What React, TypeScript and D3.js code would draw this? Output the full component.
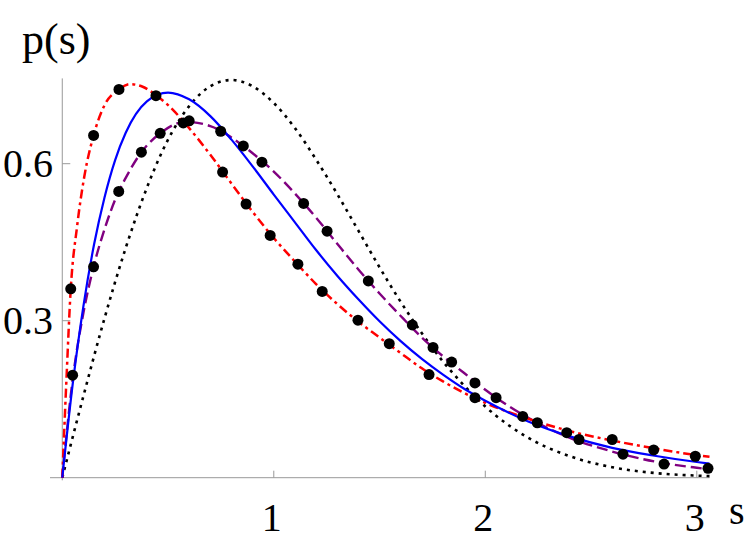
import * as d3 from 'd3'

// curves, [s, p(s)]
const goeCurve: [number, number][] = [
  [0, 0], [0.1, 0.156], [0.2, 0.305], [0.3, 0.439], [0.4, 0.554], [0.5, 0.646],
  [0.6, 0.71], [0.7, 0.748], [0.8, 0.76], [0.9, 0.748], [1.0, 0.716], [1.1, 0.668],
  [1.2, 0.608], [1.3, 0.542], [1.4, 0.472], [1.5, 0.402], [1.6, 0.336], [1.7, 0.276],
  [1.8, 0.222], [1.9, 0.176], [2.0, 0.136], [2.2, 0.077], [2.4, 0.041], [2.6, 0.02],
  [2.8, 0.009], [3.0, 0.004], [3.06, 0.003],
]

const blueCurve: [number, number][] = [
  [0, 0], [0.05, 0.181], [0.1, 0.328], [0.15, 0.445], [0.2, 0.536], [0.25, 0.607],
  [0.3, 0.659], [0.4, 0.719], [0.5, 0.736], [0.6, 0.723], [0.7, 0.691], [0.8, 0.646],
  [0.9, 0.595], [1.0, 0.541], [1.1, 0.488], [1.2, 0.435], [1.3, 0.386], [1.4, 0.341],
  [1.5, 0.299], [1.6, 0.261], [1.7, 0.227], [1.8, 0.197], [1.9, 0.17], [2.0, 0.147],
  [2.2, 0.108], [2.4, 0.079], [2.6, 0.057], [2.8, 0.042], [3.0, 0.03], [3.06, 0.027],
]

const purpleCurve: [number, number][] = [
  [0, 0], [0.05, 0.19], [0.1, 0.315], [0.148, 0.403], [0.2, 0.475], [0.267, 0.547],
  [0.3, 0.573], [0.374, 0.622], [0.463, 0.658], [0.58, 0.68], [0.7, 0.672], [0.8, 0.65],
  [0.9, 0.62], [1.0, 0.585], [1.1, 0.543], [1.2, 0.497], [1.3, 0.447], [1.4, 0.398],
  [1.5, 0.352], [1.6, 0.309], [1.7, 0.268], [1.8, 0.232], [1.9, 0.2], [2.0, 0.168],
  [2.2, 0.115], [2.4, 0.076], [2.6, 0.05], [2.8, 0.031], [3.0, 0.019], [3.06, 0.016],
]

const redCurve: [number, number][] = [
  [0, 0], [0.02, 0.19], [0.04, 0.36], [0.07, 0.48], [0.104, 0.575], [0.148, 0.654],
  [0.2, 0.712], [0.268, 0.742], [0.32, 0.752], [0.38, 0.747], [0.443, 0.731], [0.5, 0.712],
  [0.6, 0.668], [0.7, 0.617], [0.8, 0.562], [0.9, 0.508], [1.0, 0.458], [1.1, 0.413],
  [1.2, 0.37], [1.3, 0.332], [1.4, 0.298], [1.5, 0.268], [1.6, 0.238], [1.7, 0.209],
  [1.8, 0.184], [1.9, 0.162], [2.0, 0.143], [2.2, 0.113], [2.4, 0.089], [2.6, 0.071],
  [2.8, 0.056], [3.0, 0.043], [3.06, 0.04],
]

// measured points (black dots)
const dotsA: [number, number][] = [
  [0.04, 0.361], [0.148, 0.654], [0.268, 0.742], [0.443, 0.73], [0.758, 0.584],
  [0.869, 0.523], [0.983, 0.463], [1.114, 0.408], [1.229, 0.356], [1.398, 0.301],
  [1.546, 0.256], [1.734, 0.197], [1.951, 0.153], [2.177, 0.117], [2.385, 0.086],
  [2.6, 0.073], [2.796, 0.053], [2.993, 0.041],
]

const dotsB: [number, number][] = [
  [0.049, 0.196], [0.148, 0.403], [0.267, 0.547], [0.374, 0.622], [0.463, 0.658],
  [0.572, 0.678], [0.6, 0.682], [0.749, 0.662], [0.856, 0.634], [0.944, 0.603],
  [1.141, 0.524], [1.252, 0.471], [1.447, 0.376], [1.655, 0.292], [1.753, 0.249],
  [1.841, 0.221], [1.951, 0.181], [2.051, 0.153], [2.246, 0.105], [2.443, 0.073],
  [2.651, 0.045], [2.845, 0.026], [3.053, 0.018],
]

const xTicks = [1, 2, 3]
const yTicks = [0.3, 0.6]

const width = 750
const height = 540
const font = "'Liberation Serif', 'DejaVu Serif', serif"
const axisColor = '#999'

export default function App() {
  const x = d3.scaleLinear().domain([-0.058, 3.06]).range([50, 709.5])
  const y = d3.scaleLinear().domain([0, 0.763]).range([477.7, 78.4])

  const line = d3.line<[number, number]>()
    .x(d => x(d[0]))
    .y(d => y(d[1]))
    .curve(d3.curveMonotoneX)

  const series = [
    { data: goeCurve, color: '#000', dash: '3,5', w: 2.6 },
    { data: purpleCurve, color: '#800080', dash: '11,5', w: 2.4 },
    { data: redCurve, color: '#ff0000', dash: '9,4,3,4', w: 2.5 },
    { data: blueCurve, color: '#0000ff', dash: null, w: 2.2 },
  ]

  const textStyle = { fontFamily: font }

  return (
    <svg width={width} height={height} style={{ position: 'absolute', left: 0, top: 0, background: '#fff' }}>
      {/* axes */}
      <line x1={x(0)} x2={x(0)} y1={y(-0.005)} y2={y(0.763)} stroke={axisColor} strokeWidth={1} />
      <line x1={x(-0.058)} x2={x(3.06)} y1={y(0)} y2={y(0)} stroke={axisColor} strokeWidth={1} />
      {yTicks.map(t => (
        <g key={'y' + t}>
          <line x1={x(0)} x2={x(0) + 8} y1={y(t)} y2={y(t)} stroke={axisColor} />
          <text x={53} y={y(t)} dy="0.34em" textAnchor="end" fontSize={40} style={textStyle}>
            {d3.format('.1f')(t)}
          </text>
        </g>
      ))}
      {xTicks.map(t => (
        <g key={'x' + t}>
          <line x1={x(t)} x2={x(t)} y1={y(0)} y2={y(0) - 7} stroke={axisColor} />
          <text x={x(t) - 2} y={531} textAnchor="middle" fontSize={40} style={textStyle}>
            {t}
          </text>
        </g>
      ))}
      <text x={22} y={54} fontSize={44} style={textStyle}>p(s)</text>
      <text x={729} y={524} fontSize={40} style={textStyle}>s</text>

      {/* curves */}
      {series.map((s, i) => (
        <path key={i} d={line(s.data) ?? ''} fill="none" stroke={s.color}
          strokeWidth={s.w} strokeDasharray={s.dash ?? undefined} />
      ))}

      {/* data points */}
      {[...dotsA, ...dotsB].map((d, i) => (
        <circle key={i} cx={x(d[0])} cy={y(d[1])} r={5.5} fill="#000" />
      ))}
    </svg>
  )
}
